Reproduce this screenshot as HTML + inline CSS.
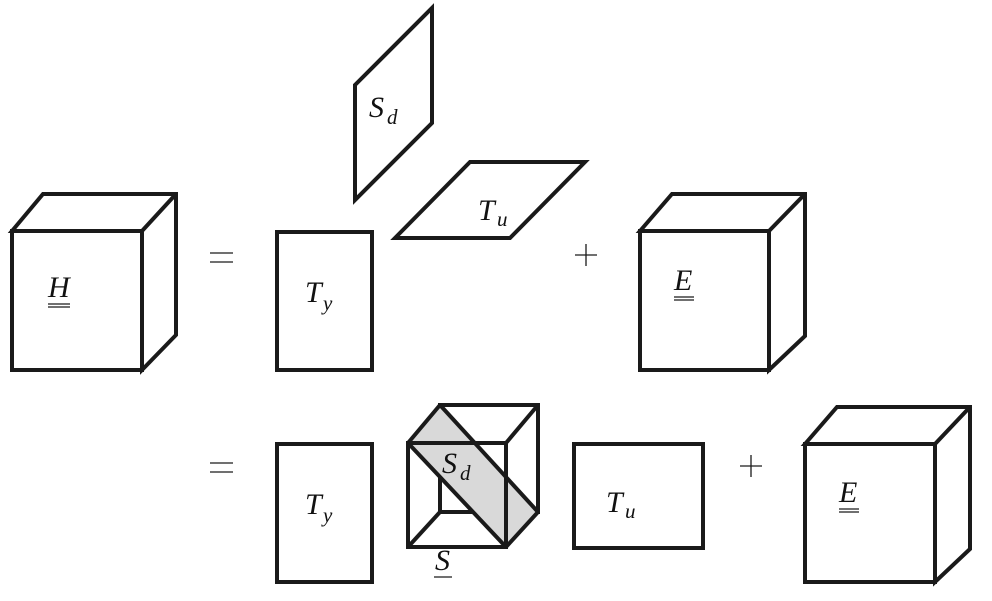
<!DOCTYPE html>
<html><head><meta charset="utf-8"><style>
html,body{margin:0;padding:0;background:#fff;}
svg{display:block;}
text{font-family:"Liberation Serif",serif;font-style:italic;fill:#111;}
.s{fill:#fff;stroke:#1a1a1a;stroke-width:4;stroke-linejoin:miter;}
.l{fill:none;stroke:#1a1a1a;stroke-width:4;}
.t{fill:none;stroke:#1a1a1a;stroke-width:1.3;}
</style></head><body>
<svg width="992" height="601" viewBox="0 0 992 601" xmlns="http://www.w3.org/2000/svg">
<!-- H cube -->
<polygon class="s" points="12,231 43,194 176,194 176,335 142,370 142,231"/>
<line class="l" x1="142" y1="231" x2="176" y2="194"/>
<rect class="s" x="12" y="231" width="130" height="139"/>
<text x="48" y="297" font-size="30">H</text>
<line class="t" x1="48" y1="304" x2="70" y2="304"/><line class="t" x1="48" y1="307" x2="70" y2="307"/>

<!-- = -->
<line class="t" x1="210" y1="253" x2="233" y2="253"/><line class="t" x1="210" y1="262" x2="233" y2="262"/>
<line class="t" x1="210" y1="463" x2="233" y2="463"/><line class="t" x1="210" y1="472" x2="233" y2="472"/>

<!-- Ty top -->
<rect class="s" x="277" y="232" width="95" height="138"/>
<text x="305" y="302" font-size="30">T</text><text x="323" y="310" font-size="21">y</text>

<!-- Sd plane -->
<polygon class="s" points="355,85 432,8 432,123 355,200"/>
<text x="369" y="117" font-size="30">S</text><text x="387" y="124" font-size="21">d</text>

<!-- Tu plane -->
<polygon class="s" points="395,238 470,162 585,162 510,238"/>
<text x="478" y="220" font-size="30">T</text><text x="497" y="226" font-size="21">u</text>

<!-- + -->
<line class="t" x1="575" y1="255" x2="597" y2="255"/><line class="t" x1="586" y1="244" x2="586" y2="266"/>
<line class="t" x1="740" y1="466" x2="762" y2="466"/><line class="t" x1="751" y1="455" x2="751" y2="477"/>

<!-- E cube top -->
<polygon class="s" points="640,231 672,194 805,194 805,336 769,370 769,231"/>
<line class="l" x1="769" y1="231" x2="805" y2="194"/>
<rect class="s" x="640" y="231" width="129" height="139"/>
<text x="674" y="290" font-size="30">E</text>
<line class="t" x1="674" y1="297" x2="694" y2="297"/><line class="t" x1="674" y1="300" x2="694" y2="300"/>

<!-- Ty bottom -->
<rect class="s" x="277" y="444" width="95" height="138"/>
<text x="305" y="514" font-size="30">T</text><text x="323" y="522" font-size="21">y</text>

<!-- S core cube -->
<rect class="l" x="440" y="405" width="98" height="107"/>
<polygon points="408,443 440,405 538,512 506,547" fill="#d9d9d9"/>
<line class="l" x1="408" y1="443" x2="506" y2="547"/>
<line class="l" x1="440" y1="405" x2="538" y2="512"/>
<line class="l" x1="408" y1="443" x2="440" y2="405"/>
<line class="l" x1="506" y1="443" x2="538" y2="405"/>
<line class="l" x1="408" y1="547" x2="440" y2="512"/>
<line class="l" x1="506" y1="547" x2="538" y2="512"/>
<line class="l" x1="440" y1="405" x2="538" y2="405"/>
<line class="l" x1="538" y1="405" x2="538" y2="512"/>
<rect class="l" x="408" y="443" width="98" height="104"/>
<text x="442" y="473" font-size="30">S</text><text x="460" y="480" font-size="21">d</text>
<text x="435" y="570" font-size="30">S</text>
<line class="t" x1="434" y1="577" x2="452" y2="577"/>

<!-- Tu rect -->
<rect class="s" x="574" y="444" width="129" height="104"/>
<text x="606" y="512" font-size="30">T</text><text x="625" y="518" font-size="21">u</text>

<!-- E cube bottom -->
<polygon class="s" points="805,444 837,407 970,407 970,549 935,582 935,444"/>
<line class="l" x1="935" y1="444" x2="970" y2="407"/>
<rect class="s" x="805" y="444" width="130" height="138"/>
<text x="839" y="502" font-size="30">E</text>
<line class="t" x1="839" y1="509" x2="859" y2="509"/><line class="t" x1="839" y1="512" x2="859" y2="512"/>
</svg>
</body></html>
